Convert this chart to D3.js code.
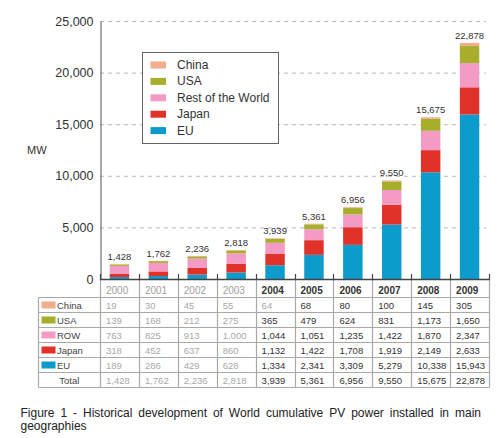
<!DOCTYPE html>
<html>
<head>
<meta charset="utf-8">
<script src="https://cdn.jsdelivr.net/npm/d3@7"></script>
<style>
  html, body { margin: 0; padding: 0; background: #fff; }
  svg { display: block; font-family: "Liberation Sans", Arial, Helvetica, sans-serif; }
</style>
</head>
<body>
<svg id="chart" width="502" height="438"></svg>
<script>
// ---- data ----
const years  = ["2000","2001","2002","2003","2004","2005","2006","2007","2008","2009"];
const china  = [19, 30, 45, 55, 64, 68, 80, 100, 145, 305];
const usa    = [139, 168, 212, 275, 365, 479, 624, 831, 1173, 1650];
const row    = [763, 825, 913, 1000, 1044, 1051, 1235, 1422, 1870, 2347];
const japan  = [318, 452, 637, 860, 1132, 1422, 1708, 1919, 2149, 2633];
const eu     = [189, 286, 429, 628, 1334, 2341, 3309, 5279, 10338, 15943];
const totals = [1428, 1762, 2236, 2818, 3939, 5361, 6956, 9550, 15675, 22878];
const yTicks = [0, 5000, 10000, 15000, 20000, 25000];
const legendLabels = ["China", "USA", "Rest of the World", "Japan", "EU"];
const tableLabels  = ["China", "USA", "ROW", "Japan", "EU"];
const caption1 = "Figure 1 - Historical development of World cumulative PV power installed in main";
const caption2 = "geographies";

// ---- styles ----
const colors = {China: "#f2ad8e", USA: "#a6ae2c", ROW: "#f39bc5", Japan: "#e1322a", EU: "#0d9bcc"};
const seriesKeys = ["EU", "Japan", "ROW", "USA", "China"]; // stacking order bottom->top
const seriesVals = {China: china, USA: usa, ROW: row, Japan: japan, EU: eu};

const svg = d3.select("#chart");

const x0 = 100, x1 = 489;
const x = d3.scaleBand().domain(years).range([x0, x1]).paddingInner(0.5).paddingOuter(0.25);
const xc = d3.scaleBand().domain(years).range([x0, x1]).padding(0);
const y = d3.scaleLinear().domain([0, 25000]).range([279, 21]);

// gridlines
svg.append("g").selectAll("line").data(yTicks.filter(d => d > 0)).join("line")
  .attr("x1", x0).attr("x2", 486)
  .attr("y1", d => y(d) + 0.5).attr("y2", d => y(d) + 0.5)
  .attr("stroke", "#b8b8b8").attr("stroke-width", 1).attr("stroke-dasharray", "4,4");

// y axis
const yAxis = d3.axisLeft(y).tickValues(yTicks).tickSize(0).tickPadding(7)
  .tickFormat(d3.format(","));
const gy = svg.append("g").attr("transform", `translate(${x0 + 0.5},0)`).call(yAxis);
gy.select(".domain").attr("stroke", "#555").attr("stroke-width", 1);
gy.selectAll("text").attr("font-size", 12.5).attr("fill", "#333")
  .attr("font-family", "'Liberation Sans', Arial, sans-serif");

svg.append("text").attr("x", 27).attr("y", 154).text("MW")
  .attr("font-size", 11).attr("fill", "#333");

// stacked bars
const tableData = years.map((yr, i) => {
  const o = {year: yr};
  seriesKeys.forEach(k => o[k] = seriesVals[k][i]);
  return o;
});
const stack = d3.stack().keys(seriesKeys)(tableData);
svg.append("g").selectAll("g").data(stack).join("g")
  .attr("fill", d => colors[d.key])
  .selectAll("rect").data(d => d).join("rect")
  .attr("x", d => x(d.data.year))
  .attr("width", x.bandwidth())
  .attr("y", d => y(d[1]))
  .attr("height", d => y(d[0]) - y(d[1]));

// total labels
svg.append("g").selectAll("text").data(years).join("text")
  .attr("x", d => x(d) + x.bandwidth() / 2)
  .attr("y", (d, i) => y(totals[i]) - 4)
  .attr("text-anchor", "middle")
  .attr("font-size", 9.5).attr("fill", "#333")
  .text((d, i) => d3.format(",")(totals[i]));

// ---- table ----
const headerTop = 279.5, rowTop = 297, rowH = 15;
const nRows = tableLabels.length + 1;
const tableBottom = rowTop + nRows * rowH;
const labelLeft = 38.5;
const tg = svg.append("g");
const fs = 9.5;

// horizontal lines
d3.range(nRows + 1).forEach(r => {
  tg.append("line").attr("x1", labelLeft).attr("x2", x1 + 0.5)
    .attr("y1", rowTop + r * rowH + 0.5).attr("y2", rowTop + r * rowH + 0.5)
    .attr("stroke", "#a8a8a8").attr("stroke-width", 1.2);
});
// label column left edge
tg.append("line").attr("x1", labelLeft).attr("x2", labelLeft)
  .attr("y1", rowTop + 0.5).attr("y2", tableBottom + 0.5)
  .attr("stroke", "#a8a8a8").attr("stroke-width", 1.2);
// vertical column lines
const bounds = years.map(d => xc(d)).concat([x1]);
tg.selectAll("line.v").data(bounds).join("line").attr("class", "v")
  .attr("x1", d => Math.round(d) + 0.5).attr("x2", d => Math.round(d) + 0.5)
  .attr("y1", headerTop).attr("y2", tableBottom + 0.5)
  .attr("stroke", "#a8a8a8").attr("stroke-width", 1.2);

// x axis line and ticks (upward)
svg.append("line").attr("x1", x0).attr("x2", x1 + 0.5).attr("y1", 279.5).attr("y2", 279.5)
  .attr("stroke", "#444").attr("stroke-width", 1.5);
svg.append("g").selectAll("line").data(bounds).join("line")
  .attr("x1", d => Math.round(d) + 0.5).attr("x2", d => Math.round(d) + 0.5)
  .attr("y1", 274).attr("y2", 280)
  .attr("stroke", "#444").attr("stroke-width", 1.2);

// header years
const isOld = yr => +yr < 2004;
tg.selectAll("text.yr").data(years).join("text").attr("class", "yr")
  .attr("x", d => xc(d) + 6).attr("y", 293.5)
  .attr("font-size", 10)
  .attr("font-weight", d => isOld(d) ? "normal" : "bold")
  .attr("fill", d => isOld(d) ? "#a0a0a0" : "#333")
  .text(d => d);

// row labels with swatches
const rowKeys = ["China", "USA", "ROW", "Japan", "EU"];
rowKeys.forEach((k, r) => {
  const cy = rowTop + r * rowH + rowH / 2 + 0.5;
  tg.append("rect").attr("x", 41.5).attr("y", cy - 3.5).attr("width", 14).attr("height", 7)
    .attr("fill", colors[k]);
  tg.append("text").attr("x", 57).attr("y", cy + 3.5)
    .attr("font-size", fs).attr("fill", "#444").text(tableLabels[r]);
  tg.selectAll(null).data(years).join("text")
    .attr("x", d => xc(d) + 6).attr("y", cy + 3.5)
    .attr("font-size", fs)
    .attr("fill", (d, i) => (isOld(d) || (k === "China" && d === "2004")) ? "#a8a8a8" : "#333")
    .text((d, i) => d3.format(",")(seriesVals[k][i]));
});
{
  const cy = rowTop + 5 * rowH + rowH / 2 + 0.5;
  tg.append("text").attr("x", (labelLeft + x0) / 2).attr("y", cy + 3.5)
    .attr("text-anchor", "middle").attr("font-size", fs).attr("fill", "#444").text("Total");
  tg.selectAll(null).data(years).join("text")
    .attr("x", d => xc(d) + 6).attr("y", cy + 3.5)
    .attr("font-size", fs)
    .attr("fill", d => isOld(d) ? "#a8a8a8" : "#333")
    .text((d, i) => d3.format(",")(totals[i]));
}

// ---- legend ----
const lg = svg.append("g");
lg.append("rect").attr("x", 142.5).attr("y", 52.5).attr("width", 136).attr("height", 91)
  .attr("fill", "#fff").attr("stroke", "#666").attr("stroke-width", 1);
const legendKeys = ["China", "USA", "ROW", "Japan", "EU"];
legendKeys.forEach((k, i) => {
  const cy = 65 + i * 16.4;
  lg.append("rect").attr("x", 150.5).attr("y", cy - 3.5).attr("width", 15.5).attr("height", 7)
    .attr("fill", colors[k]);
  lg.append("text").attr("x", 177).attr("y", cy + 4)
    .attr("font-size", 12).attr("fill", "#333").text(legendLabels[i]);
});

// ---- caption (justified first line) ----
const capLeft = 20.5, capRight = 481;
const words = caption1.split(" ");
const cg = svg.append("g").attr("font-size", 12).attr("fill", "#222");
const wNodes = words.map(w => cg.append("text").attr("y", 417).text(w));
const widths = wNodes.map(n => n.node().getComputedTextLength());
const totalW = d3.sum(widths);
const gap = (capRight - capLeft - totalW) / (words.length - 1);
let cx = capLeft;
wNodes.forEach((n, i) => { n.attr("x", cx); cx += widths[i] + gap; });
cg.append("text").attr("x", capLeft).attr("y", 430).text(caption2);
</script>
</body>
</html>
